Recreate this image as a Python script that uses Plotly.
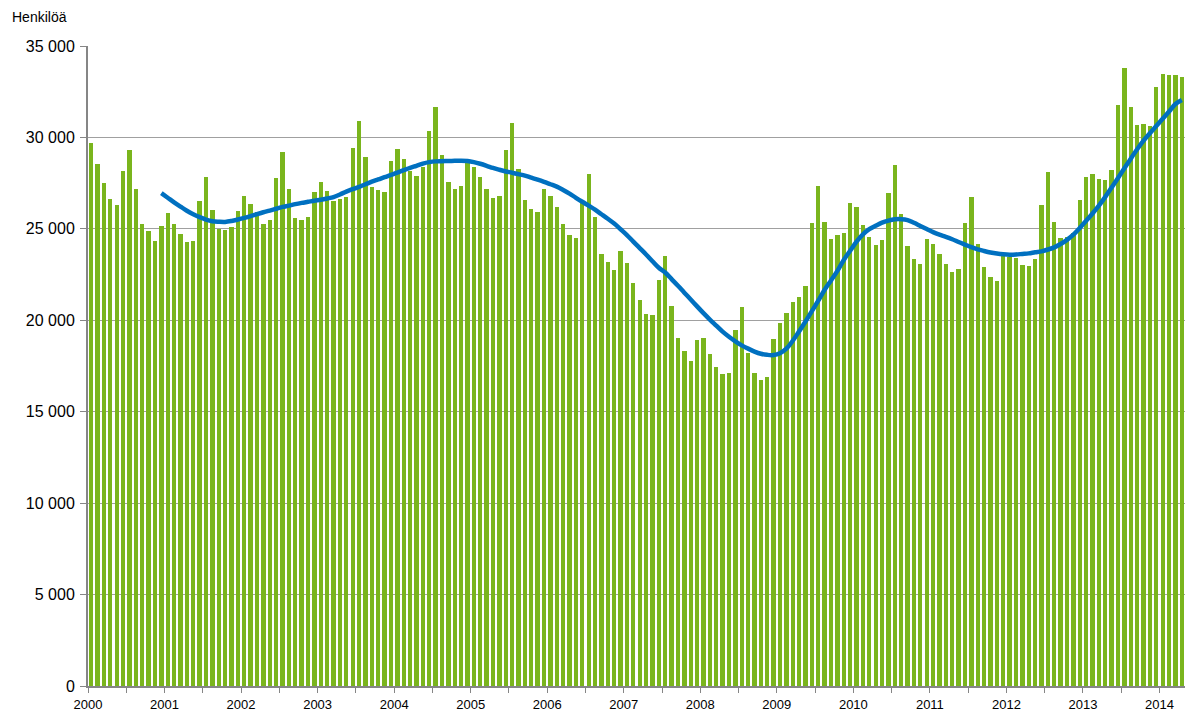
import plotly.graph_objects as go

# Monthly values Jan 2000 - Apr 2014 (persons)
years = list(range(2000, 2015))
bars_2000 = [29680, 28550, 27490, 26630, 26290, 28160, 29310, 27160, 25270, 24880, 24340, 25160]
bars_2001 = [25890, 25280, 24720, 24300, 24340, 26500, 27850, 26050, 24970, 24920, 25080, 26000]
bars_2002 = [26780, 26380, 25900, 25270, 25500, 27760, 29190, 27180, 25590, 25480, 25630, 27020]
bars_2003 = [27540, 27050, 26550, 26610, 26740, 29420, 30920, 28920, 27310, 27150, 27020, 28720]
bars_2004 = [29350, 28840, 28180, 27890, 28400, 30350, 31660, 29040, 27560, 27160, 27330, 28630]
bars_2005 = [28400, 27820, 27180, 26710, 26800, 29310, 30770, 28250, 26580, 26100, 25900, 27180]
bars_2006 = [26800, 26210, 25270, 24660, 24500, 26490, 28020, 25650, 23610, 23190, 22730, 23790]
bars_2007 = [23130, 22040, 21110, 20360, 20270, 22200, 23520, 20800, 19010, 18300, 17770, 18900]
bars_2008 = [19030, 18140, 17460, 17060, 17100, 19470, 20730, 18190, 17100, 16730, 16900, 18960]
bars_2009 = [19870, 20400, 21020, 21290, 21880, 25300, 27340, 25380, 24440, 24660, 24750, 26430]
bars_2010 = [26210, 25230, 24570, 24120, 24370, 26960, 28510, 25790, 24060, 23350, 23060, 24450]
bars_2011 = [24170, 23610, 23100, 22660, 22790, 25300, 26740, 24190, 22910, 22350, 22170, 23530]
bars_2012 = [23480, 23410, 23020, 22970, 23350, 26300, 28090, 25360, 24520, 24550, 24750, 26580]
bars_2013 = [27820, 28020, 27750, 27650, 28200, 31750, 33780, 31650, 30660, 30720, 30630, 32780]
bars_2014 = [33470, 33410, 33410, 33300]

monthly = (bars_2000 + bars_2001 + bars_2002 + bars_2003 + bars_2004 + bars_2005 +
           bars_2006 + bars_2007 + bars_2008 + bars_2009 + bars_2010 + bars_2011 +
           bars_2012 + bars_2013 + bars_2014)

# Trend, Dec 2000 - Apr 2014
trend_start = 11
trend = [26950,
         26700, 26450, 26220, 25990, 25800, 25640, 25510, 25420, 25390, 25380, 25430, 25510,
         25600, 25700, 25810, 25910, 26000, 26100, 26200, 26270, 26350, 26420, 26480, 26540,
         26590, 26660, 26740, 26880, 27040, 27170, 27300, 27440, 27580, 27700, 27830, 27950,
         28080, 28210, 28340, 28450, 28570, 28650, 28690, 28700, 28710, 28720, 28730, 28710,
         28650, 28560, 28450, 28330, 28230, 28140, 28070, 27990, 27910, 27800, 27690, 27570,
         27440, 27310, 27130, 26930, 26700, 26480, 26270, 26050, 25800, 25550, 25290, 24980,
         24660, 24300, 23950, 23600, 23230, 22870, 22610, 22250, 21890, 21510, 21140, 20760,
         20390, 20040, 19710, 19380, 19100, 18850, 18630, 18450, 18290, 18170, 18110, 18100,
         18200, 18450, 18880, 19400, 19930, 20500, 21070, 21670, 22180, 22700, 23300, 23800,
         24300, 24700, 24980, 25170, 25340, 25450, 25520, 25530, 25480, 25330, 25160, 24990,
         24820, 24680, 24560, 24430, 24280, 24140, 24000, 23880, 23790, 23710, 23650, 23610,
         23590, 23600, 23630, 23660, 23720, 23770, 23870, 23990, 24170, 24400, 24680, 25050,
         25440, 25840, 26270, 26750, 27260, 27780, 28310, 28840, 29350, 29820, 30230, 30620,
         31020, 31420, 31830, 32050]

y_ticks = [0, 5000, 10000, 15000, 20000, 25000, 30000, 35000]
y_tick_text = ["0", "5 000", "10 000", "15 000", "20 000", "25 000", "30 000", "35 000"]

x_idx = list(range(len(monthly)))
trend_x = list(range(trend_start, trend_start + len(trend)))

# half-year ticks, labels at year starts
x_tickvals = [-0.5 + 6 * k for k in range(0, 2 * (len(years) - 1) + 1)]
x_ticktext = [str(years[k // 2]) if k % 2 == 0 else "" for k in range(len(x_tickvals))]

fig = go.Figure()
fig.add_trace(go.Bar(x=x_idx, y=monthly, width=0.68,
                     marker=dict(color="#7AB51D", line=dict(width=0)),
                     hoverinfo="y", showlegend=False))
fig.add_trace(go.Scatter(x=trend_x, y=trend, mode="lines",
                         line=dict(color="#0070C0", width=4.5, shape="spline"),
                         showlegend=False))

fig.update_layout(
    width=1185, height=711,
    margin=dict(l=88, r=0, t=46, b=25),
    paper_bgcolor="white", plot_bgcolor="white",
    font=dict(family="Liberation Sans, Arial, sans-serif", color="#000000"),
    bargap=0,
    annotations=[dict(text="Henkilöä", xref="paper", yref="paper",
                      x=-78 / 1097, y=(686 - 17) / 640, xanchor="left", yanchor="middle",
                      showarrow=False, font=dict(size=14, color="#000000"))],
)
fig.update_xaxes(range=[-0.5, len(monthly) - 0.5], tickmode="array",
                 tickvals=x_tickvals, ticktext=x_ticktext,
                 ticks="outside", ticklen=5, tickcolor="#868686", tickwidth=1,
                 showline=True, linecolor="#868686", linewidth=2,
                 showgrid=False, zeroline=False,
                 tickfont=dict(size=13, color="#000000"))
fig.update_yaxes(range=[0, 35000], tickmode="array", tickvals=y_ticks, ticktext=y_tick_text,
                 ticks="outside", ticklen=6, tickcolor="#868686", tickwidth=1,
                 showline=True, linecolor="#868686", linewidth=2,
                 showgrid=True, gridcolor="#A0A0A0", gridwidth=1, zeroline=False,
                 ticklabelstandoff=2,
                 tickfont=dict(size=16, color="#000000"))

fig.write_html("out.html", config={"displayModeBar": False},
               post_script="document.body.style.margin='0';document.body.style.padding='0';")
